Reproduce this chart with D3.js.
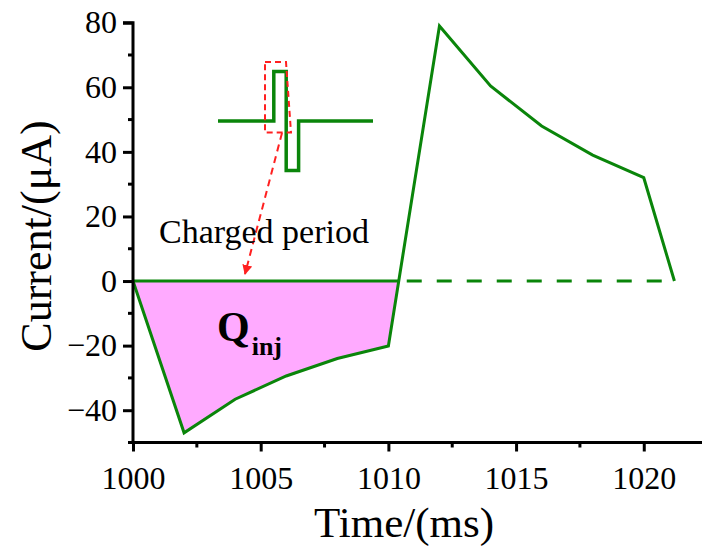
<!DOCTYPE html>
<html>
<head>
<meta charset="utf-8">
<script src="https://cdn.jsdelivr.net/npm/d3@7"></script>
<style>
  body { margin: 0; background: #fff; }
  svg { display: block; }
  text { font-family: "Liberation Serif", "Times New Roman", serif; fill: #000; }
</style>
</head>
<body>
<div id="chart"></div>
<script>
// measured current response (ms, uA)
const timeMs = [1000, 1002, 1004, 1006, 1008, 1010, 1012, 1014, 1016, 1018, 1020, 1021.2];
const currentUA = [0, -47, -36.6, -29.4, -24, -20.1, 79, 60.4, 48, 39, 32, 0];

const xTicks = [1000, 1005, 1010, 1015, 1020];
const xMinor = [1002.5, 1007.5, 1012.5, 1017.5];
const yTicks = [-40, -20, 0, 20, 40, 60, 80];
const yMinor = [-50, -30, -10, 10, 30, 50, 70];

// inset pulse shape (arbitrary units: t, level)
const pulseT = [0, 0.36, 0.36, 0.44, 0.44, 0.52, 0.52, 1];
const pulseV = [0, 0, 1, 1, -1, -1, 0, 0];

const width = 702, height = 549;
const green = '#0a850a';
const serif = '"Liberation Serif", "Times New Roman", serif';

const svg = d3.select('#chart').append('svg')
    .attr('width', width)
    .attr('height', height);

const x = d3.scaleLinear().domain([1000, 1022.3]).range([133, 702.5]);
const y = d3.scaleLinear().domain([-50, 80]).range([442.5, 22.7]);

const data = timeMs.map((t, i) => ({ t: t, v: currentUA[i] }));

// zero crossing between 1010 and 1012
const a = data[5], b = data[6];
const tCross = a.t + (0 - a.v) * (b.t - a.t) / (b.v - a.v);

// charged area
const areaPts = data.slice(0, 6).concat([{ t: tCross, v: 0 }]);
svg.append('path')
    .datum(areaPts)
    .attr('fill', '#ffaaff')
    .attr('stroke', 'none')
    .attr('d', d3.area().x(d => x(d.t)).y0(y(0)).y1(d => y(d.v)));

// solid zero line over the charged period
svg.append('line')
    .attr('x1', x(1000)).attr('x2', x(tCross))
    .attr('y1', y(0)).attr('y2', y(0))
    .attr('stroke', green).attr('stroke-width', 3);

// dashed zero line after
svg.append('line')
    .attr('x1', x(tCross)).attr('x2', x(timeMs[timeMs.length - 1]))
    .attr('y1', y(0)).attr('y2', y(0))
    .attr('stroke', green).attr('stroke-width', 3)
    .attr('stroke-dasharray', '15,15')
    .attr('stroke-dashoffset', -8);

// current trace
svg.append('path')
    .datum(data)
    .attr('fill', 'none')
    .attr('stroke', green)
    .attr('stroke-width', 3)
    .attr('stroke-linejoin', 'miter')
    .attr('d', d3.line().x(d => x(d.t)).y(d => y(d.v)));

// axes
const xAxis = svg.append('g')
    .attr('transform', 'translate(0,' + y(-50) + ')');
xAxis.call(d3.axisBottom(x).tickValues(xTicks).tickSize(9).tickPadding(15).tickFormat(d3.format('d')));
xAxis.append('g').selectAll('line')
    .data(xMinor).join('line')
    .attr('x1', d => x(d)).attr('x2', d => x(d))
    .attr('y1', 0).attr('y2', 5)
    .attr('stroke', '#000').attr('stroke-width', 3);

const yAxis = svg.append('g')
    .attr('transform', 'translate(' + x(1000) + ',0)');
yAxis.call(d3.axisLeft(y).tickValues(yTicks).tickSize(10).tickPadding(6));
yAxis.append('g').selectAll('line')
    .data(yMinor).join('line')
    .attr('x1', 0).attr('x2', -5)
    .attr('y1', d => y(d)).attr('y2', d => y(d))
    .attr('stroke', '#000').attr('stroke-width', 3);

[xAxis, yAxis].forEach(g => {
    g.attr('font-family', serif).attr('font-size', 32);
    g.select('.domain').attr('stroke', '#000').attr('stroke-width', 3);
    g.selectAll('.tick line').attr('stroke', '#000').attr('stroke-width', 3);
    g.selectAll('.tick text')
        .attr('fill', '#000')
        .style('font-family', serif)
        .style('font-size', '32px');
});
// d3 draws outer ticks on the domain path; redraw as plain lines
xAxis.select('.domain').attr('d', 'M' + x(1000) + ',0H' + width);
yAxis.select('.domain').attr('d', 'M0,' + y(-50) + 'V' + y(80) + 'H-10');

// axis titles
svg.append('text')
    .attr('x', 404).attr('y', 537)
    .attr('text-anchor', 'middle')
    .style('font-size', '43px')
    .text('Time/(ms)');

svg.append('text')
    .attr('transform', 'translate(51,236) rotate(-90)')
    .attr('text-anchor', 'middle')
    .style('font-size', '44px')
    .text('Current/(μA)');

// inset pulse
const px = d3.scaleLinear().domain([0, 1]).range([218, 373]);
const py = d3.scaleLinear().domain([-1, 1]).range([170.5, 71.5]);
svg.append('path')
    .datum(pulseT.map((t, i) => [t, pulseV[i]]))
    .attr('fill', 'none')
    .attr('stroke', green)
    .attr('stroke-width', 3.5)
    .attr('d', d3.line().x(d => px(d[0])).y(d => py(d[1])));

// red dashed selection box
svg.append('path')
    .attr('d', 'M265,62 L286,62 L291,132.5 L265,132.5 Z')
    .attr('fill', 'none')
    .attr('stroke', '#ff2020')
    .attr('stroke-width', 2)
    .attr('stroke-dasharray', '6,4');

// red arrow
svg.append('defs').append('marker')
    .attr('id', 'arrowRed')
    .attr('viewBox', '0 0 10 10')
    .attr('refX', 9).attr('refY', 5)
    .attr('markerWidth', 10).attr('markerHeight', 10)
    .attr('markerUnits', 'userSpaceOnUse')
    .attr('orient', 'auto')
  .append('path')
    .attr('d', 'M0,0 L10,5 L0,10 Z')
    .attr('fill', '#ff2020');

svg.append('line')
    .attr('x1', 282).attr('y1', 133)
    .attr('x2', 245).attr('y2', 274)
    .attr('stroke', '#ff2020')
    .attr('stroke-width', 2)
    .attr('stroke-dasharray', '7,5')
    .attr('marker-end', 'url(#arrowRed)');

// labels
svg.append('text')
    .attr('x', 159).attr('y', 243)
    .style('font-size', '34px')
    .text('Charged period');

const q = svg.append('text')
    .attr('x', 217).attr('y', 341)
    .style('font-size', '42px')
    .style('font-weight', 'bold');
q.append('tspan').text('Q');
q.append('tspan')
    .attr('dy', 14)
    .attr('dx', 2)
    .style('font-size', '26px')
    .text('inj');
</script>
</body>
</html>
